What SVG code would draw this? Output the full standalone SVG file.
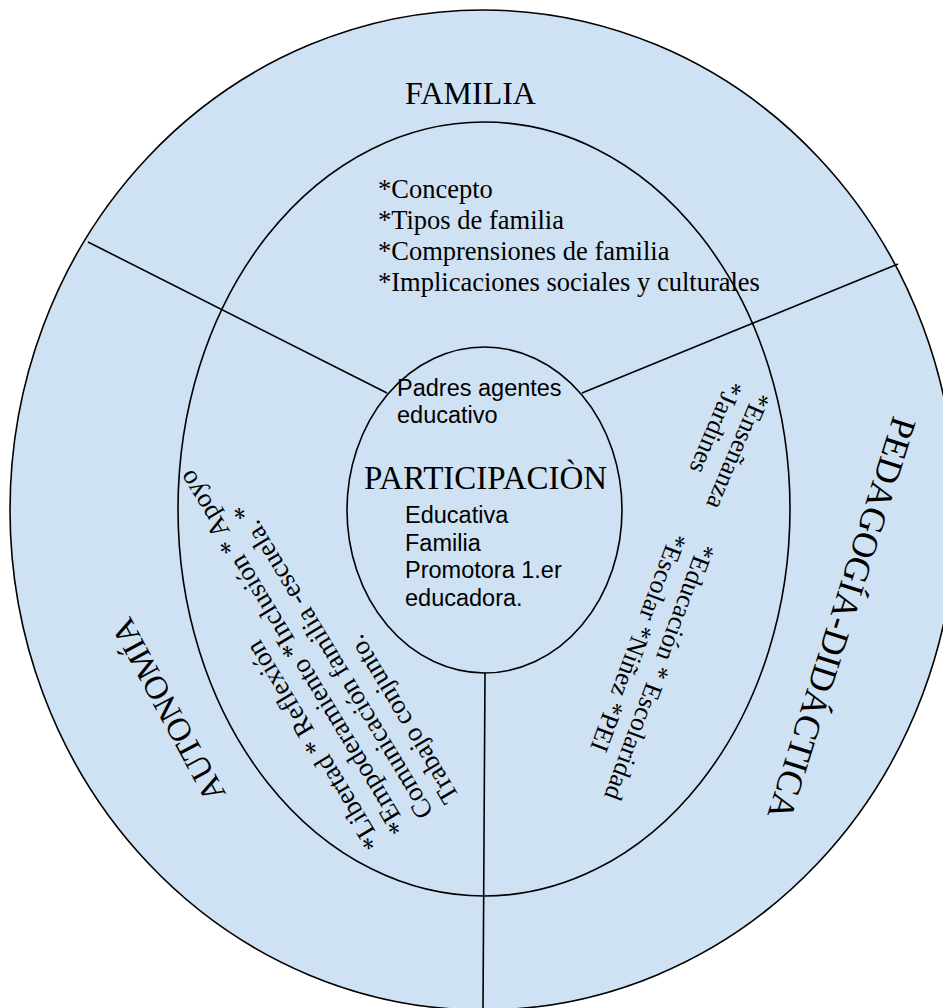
<svg xmlns="http://www.w3.org/2000/svg" width="943" height="1008" viewBox="0 0 943 1008">
<style>
.shape{fill:#cfe2f3;stroke:#000;stroke-width:1.6}
.conn{stroke:#000;stroke-width:1.6;fill:none}
.serif{font-family:"Liberation Serif","Times New Roman",serif;fill:#000}
.sans{font-family:"Liberation Sans",Arial,sans-serif;fill:#000}
.t26{font-size:26px}
</style>
<rect width="943" height="1008" fill="#fff"/>
<g id="outer-ring">
<ellipse class="shape" cx="483" cy="510" rx="473" ry="500"/>
</g>
<g id="inner-ring">
<ellipse class="shape" cx="484" cy="509" rx="306" ry="387"/>
</g>
<g id="center">
<ellipse class="shape" cx="484.5" cy="510" rx="137.5" ry="163"/>
</g>
<g id="connectors">
<line class="conn" x1="88" y1="242" x2="387" y2="393"/>
<line class="conn" x1="898" y1="264" x2="582" y2="393"/>
<line class="conn" x1="485" y1="673" x2="483" y2="1008"/>
</g>
<g id="familia">
<text class="serif" x="405" y="104" font-size="32">FAMILIA</text>
<text class="serif" font-size="26.5">
<tspan x="378" y="198">*Concepto</tspan>
<tspan x="378" y="229">*Tipos de familia</tspan>
<tspan x="378" y="260">*Comprensiones de familia</tspan>
<tspan x="378" y="291">*Implicaciones sociales y culturales</tspan>
</text>
</g>
<g id="participacion">
<text class="sans" font-size="23.5"><tspan x="397" y="396">Padres agentes</tspan><tspan x="397" y="423">educativo</tspan></text>
<text class="serif" x="364" y="489" font-size="33">PARTICIPACIÒN</text>
<text class="sans" font-size="23.5"><tspan x="405" y="523">Educativa</tspan><tspan x="405" y="551">Familia</tspan><tspan x="405" y="578">Promotora 1.er</tspan><tspan x="405" y="606">educadora.</tspan></text>
</g>
<g id="pedagogia-didactica">
<text class="serif" font-size="36" text-anchor="middle" transform="translate(830.4,615) rotate(107.5)">PEDAGOGÍA-DIDÁCTICA</text>
<text class="serif t26" transform="translate(754.5,390.3) rotate(113)"><tspan x="0" y="0">*Enseñanza</tspan><tspan x="0" y="29.5">*Jardines</tspan></text>
<text class="serif t26" transform="translate(698.9,541.9) rotate(110.5)"><tspan x="0" y="0">*Educación * Escolaridad</tspan><tspan x="0" y="30">*Escolar  *Niñez *PEI</tspan></text>
</g>
<g id="autonomia">
<text class="serif" font-size="33" text-anchor="middle" transform="translate(177.9,704.8) rotate(-118.4)">AUTONOMÍA</text>
<text class="serif" font-size="27" transform="translate(382.6,843) rotate(-121)"><tspan x="0" y="0">*Libertad * Reflexión</tspan><tspan x="0" y="30">*Empoderamiento *Inclusión * Apoyo</tspan><tspan x="0" y="60">Comunicación familia -escuela. *</tspan><tspan x="0" y="90">Trabajo  conjunto.</tspan></text>
</g>
</svg>
